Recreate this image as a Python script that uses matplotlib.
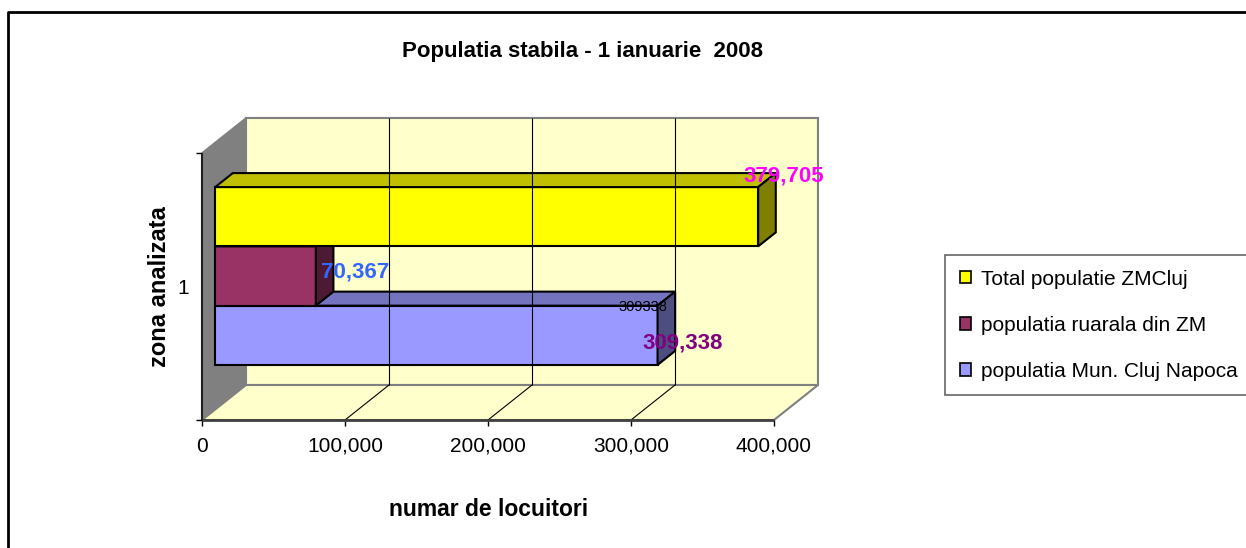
"""Populatia stabila - 1 ianuarie 2008: Excel-style 3D horizontal bar chart redrawn in matplotlib."""
import matplotlib
matplotlib.use("Agg")
import matplotlib.pyplot as plt
from matplotlib.lines import Line2D
from matplotlib.patches import Patch

plt.rcParams["font.family"] = ["Liberation Sans", "DejaVu Sans"]

# data
categories = ["1"]
series_names = ["Total populatie ZMCluj", "populatia ruarala din ZM", "populatia Mun. Cluj Napoca"]
values = [379705, 70367, 309338]
value_labels = ["379,705", "70,367", "309,338"]
stray_label = "309338"
x_ticks = [0, 100000, 200000, 300000, 400000]
x_tick_labels = ["0", "100,000", "200,000", "300,000", "400,000"]

# styling
front_cols = ["#FFFF00", "#993366", "#9999FF"]
top_cols = ["#C0C000", "#73264D", "#7373BF"]
side_cols = ["#808000", "#4D1A33", "#4D4D80"]
label_cols = ["#FF00FF", "#3366FF", "#800080"]
WALL = "#FFFFCC"
EDGE = "#808080"

W, H = 1246, 548
X_MAX = x_ticks[-1]
PX_PER_X = 572 / X_MAX          # front axis: 0 at 202 px, 400k at 774 px
PX_PER_Y = 267                  # one category spans 267 px
DX = 44 / PX_PER_X              # depth offset in data units
DY = 35 / PX_PER_Y
BAR_H = 0.222
Z0, Z1 = 0.3, 0.7               # bar depth inside the box


def proj(x, y, z):
    return x + z * DX, y + z * DY


def face(ax, pts, color, **kw):
    xs, ys = zip(*[proj(*p) for p in pts])
    ax.fill(xs, ys, facecolor=color, clip_on=False, **kw)


def seg(ax, p0, p1, **kw):
    a, b = proj(*p0), proj(*p1)
    ax.plot([a[0], b[0]], [a[1], b[1]], clip_on=False, solid_capstyle="butt", **kw)


fig = plt.figure(figsize=(W / 100, H / 100), dpi=100)
left_px, right_px, bottom_px, top_px = 202, 202 + 572 + 44, 420, 118
ax = fig.add_axes([left_px / W, 1 - bottom_px / H,
                   (right_px - left_px) / W, (bottom_px - top_px) / H])
ax.set_xlim(0, X_MAX + DX)
ax.set_ylim(0.5, 1.5 + DY)
for s in ax.spines.values():
    s.set_visible(False)
ax.patch.set_visible(False)

# walls and floor
face(ax, [(0, 0.5, 0), (0, 0.5, 1), (0, 1.5, 1), (0, 1.5, 0)], "#808080",
     edgecolor=EDGE, linewidth=1.2)
face(ax, [(0, 0.5, 1), (X_MAX, 0.5, 1), (X_MAX, 1.5, 1), (0, 1.5, 1)], WALL,
     edgecolor=EDGE, linewidth=1.5)
face(ax, [(0, 0.5, 0), (X_MAX, 0.5, 0), (X_MAX, 0.5, 1), (0, 0.5, 1)], WALL,
     edgecolor=EDGE, linewidth=1.5)

# gridlines on back wall and floor
for t in x_ticks[1:-1]:
    seg(ax, (t, 0.5, 1), (t, 1.5, 1), color="black", linewidth=0.8)
    seg(ax, (t, 0.5, 0), (t, 0.5, 1), color="black", linewidth=0.8)

# front axis lines
seg(ax, (0, 0.5, 0), (X_MAX, 0.5, 0), color="#404040", linewidth=2)
seg(ax, (0, 0.5, 0), (0, 1.5, 0), color="#202020", linewidth=1.5)

# bars: Total on top, Mun. Cluj at the bottom; draw bottom first
centers = [1 + BAR_H, 1.0, 1 - BAR_H]
for i in [2, 1, 0]:
    v, c = values[i], centers[i]
    y0, y1 = c - BAR_H / 2, c + BAR_H / 2
    kw = dict(edgecolor="black", linewidth=1.5, joinstyle="miter")
    face(ax, [(0, y0, Z0), (v, y0, Z0), (v, y1, Z0), (0, y1, Z0)], front_cols[i], **kw)
    face(ax, [(0, y1, Z0), (v, y1, Z0), (v, y1, Z1), (0, y1, Z1)], top_cols[i], **kw)
    face(ax, [(v, y0, Z0), (v, y0, Z1), (v, y1, Z1), (v, y1, Z0)], side_cols[i], **kw)

# value labels
lab_kw = dict(textcoords="offset pixels", ha="center", va="center",
              fontsize=16, fontweight="bold")
ax.annotate(value_labels[0], proj(values[0], centers[0] + BAR_H / 2, Z1),
            xytext=(8, -3), color=label_cols[0], **lab_kw)
ax.annotate(value_labels[1], proj(values[1], centers[1], Z1),
            xytext=(22, -10), color=label_cols[1], **lab_kw)
ax.annotate(value_labels[2], proj(values[2], centers[2], Z0),
            xytext=(25, -8), color=label_cols[2], **lab_kw)
ax.annotate(stray_label, proj(values[2], centers[2] + BAR_H / 2, Z0),
            xytext=(-15, -1), textcoords="offset pixels", ha="center", va="center",
            fontsize=10.5, color="black")

# ticks
ax.set_xticks(x_ticks)
ax.set_xticklabels(x_tick_labels, fontsize=15)
ax.tick_params(axis="x", direction="out", length=4, width=1, pad=8, color="black")
ax.set_yticks([1])
ax.set_yticklabels(categories, fontsize=15)
ax.tick_params(axis="y", which="major", length=0, pad=9)
ax.set_yticks([0.5, 1.5], minor=True)
ax.tick_params(axis="y", which="minor", direction="out", length=4, width=1, color="black")

# titles
fig.text(582 / W, 1 - 51 / H, "Populatia stabila - 1 ianuarie  2008", ha="center",
         va="center", fontsize=16, fontweight="bold")
fig.text(489 / W, 1 - 510 / H, "numar de locuitori", ha="center", va="center",
         fontsize=16.5, fontweight="bold")
fig.text(160 / W, 1 - 287 / H, "zona analizata", ha="center", va="center",
         rotation=90, fontsize=17, fontweight="bold")

# legend
handles = [Patch(facecolor=c, edgecolor="black", linewidth=1.2) for c in front_cols]
leg = fig.legend(handles, series_names, loc="upper left",
                 bbox_to_anchor=(945 / W, 1 - 255 / H), fontsize=15,
                 frameon=True, fancybox=False, edgecolor="#404040",
                 handlelength=0.55, handleheight=0.55, handletextpad=0.5,
                 labelspacing=1.3, borderpad=0.7, borderaxespad=0)
leg.get_frame().set_linewidth(1.2)

# outer chart border (top and left visible)
fig.add_artist(Line2D([8 / W, 8 / W, 1], [0, 1 - 12 / H, 1 - 12 / H],
                      transform=fig.transFigure, color="black", linewidth=2))

fig.savefig("out.png", dpi=100)
